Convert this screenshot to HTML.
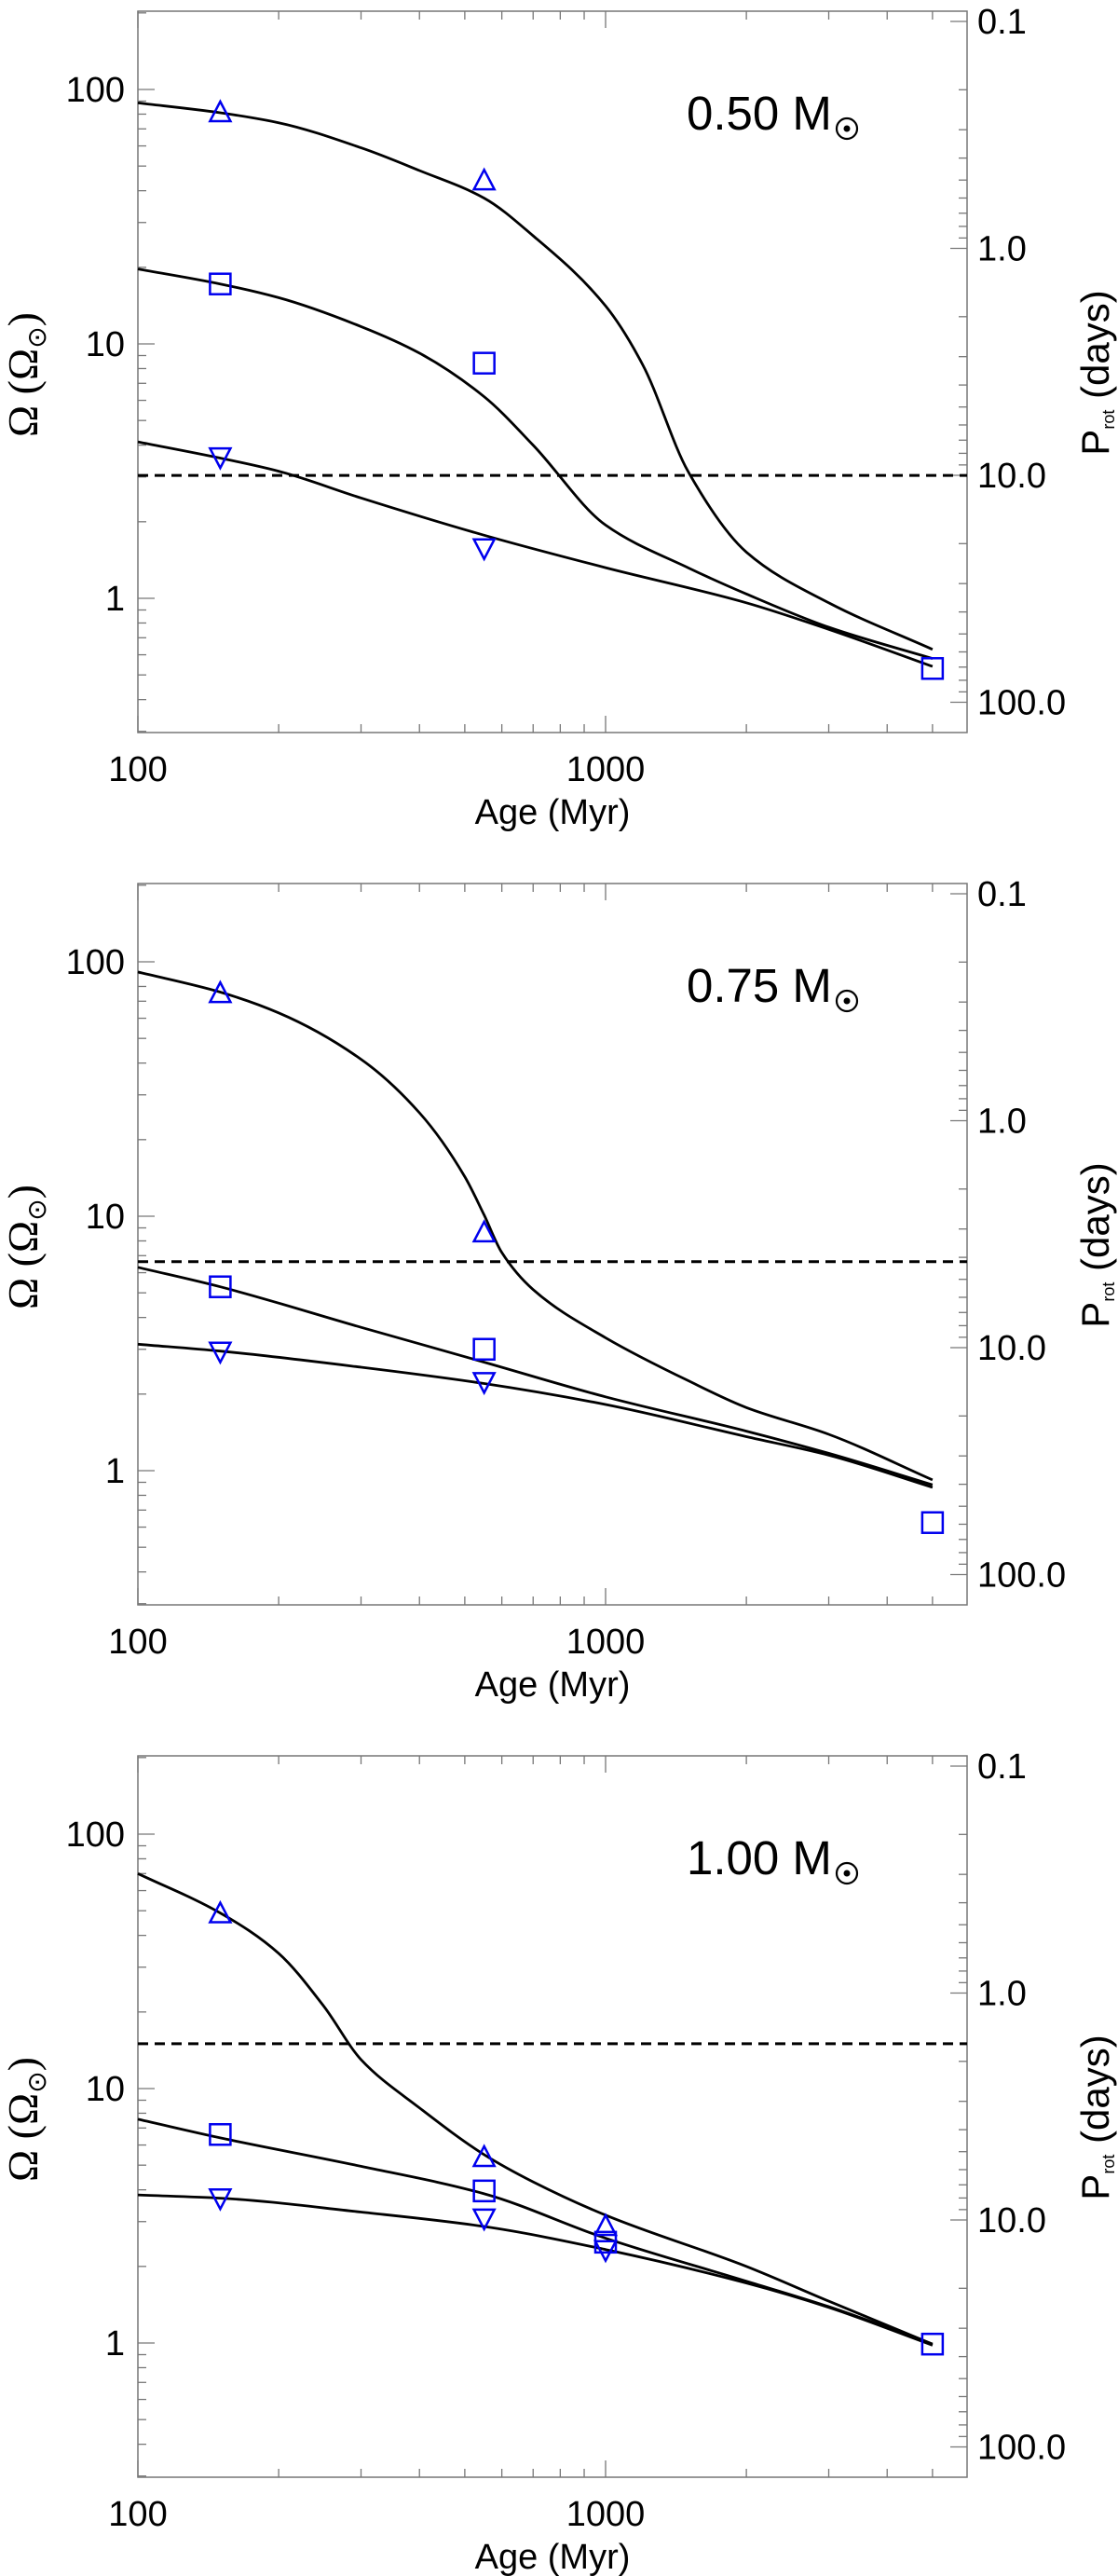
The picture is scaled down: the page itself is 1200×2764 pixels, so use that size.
<!DOCTYPE html>
<html><head><meta charset="utf-8"><title>Rotation evolution</title>
<style>
html,body{margin:0;padding:0;background:#fff;}
svg{display:block;}
text{font-family:"Liberation Sans",sans-serif;fill:#000;}
</style></head>
<body>
<svg id="fig" width="1200" height="2764" viewBox="0 0 1200 2764" xmlns="http://www.w3.org/2000/svg"></svg>
<script>
// ---- data ----
const massLabels = ["0.50", "0.75", "1.00"];
const curveAges = [[100,150,200,300,400,550,700,1000,1200,1500,2000,3000,5000],
                   [100,150,200,300,400,500,550,600,700,1000,1500,2000,3000,5000],
                   [100,150,200,250,300,400,550,700,1000,2000,3000,5000]];
const fastP1 = [88.6,81,74,59,48,37.4,26.6,14.1,8.3,3.16,1.52,0.96,0.63];
const medAgesP1 = [100,150,200,300,400,550,700,1000,1500,2000,3000,5000];
const medP1 = [19.7,17.2,15.2,11.7,9.2,6.2,4.0,1.94,1.32,1.04,0.77,0.58];
const slowAgesP1 = [100,150,200,300,550,1000,2000,3000,5000];
const slowP1 = [4.12,3.56,3.16,2.48,1.77,1.32,0.96,0.755,0.54];
const fastP2 = [91.2,76,63,41.4,25.5,14.3,10.1,7.2,5.15,3.33,2.26,1.77,1.39,0.92];
const medAgesP2 = [100,150,300,550,1000,2000,3000,5000];
const medP2 = [6.3,5.28,3.66,2.67,1.95,1.43,1.17,0.88];
const slowAgesP2 = [100,150,300,550,1000,2000,3000,5000];
const slowP2 = [3.14,2.95,2.55,2.2,1.82,1.36,1.15,0.86];
const fastP3 = [70,49,34,21,13,8.4,5.5,4.3,3.18,2.0,1.46,0.99];
const medAgesP3 = [100,150,300,550,1000,2000,3000,5000];
const medP3 = [7.58,6.4,4.95,3.86,2.58,1.75,1.39,0.99];
const slowAgesP3 = [100,150,300,550,1000,2000,3000,5000];
const slowP3 = [3.82,3.71,3.27,2.87,2.33,1.72,1.38,0.98];
const dashedOmega = [3.04, 6.63, 15.0];
const obsUpAges = [[150,550],[150,550],[150,550,1000]];
const obsUp = [[81,43.7],[75,8.6],[48.6,5.36,2.87]];
const obsSqAges = [[150,550,5000],[150,550,5000],[150,550,1000,5000]];
const obsSq = [[17.2,8.4,0.53],[5.28,3.0,0.625],[6.6,3.96,2.49,0.99]];
const obsDownAges = [[150,550],[150,550],[150,550,1000]];
const obsDown = [[3.6,1.58],[2.95,2.24],[3.72,3.1,2.33]];
const xTicks = [100,1000];
const xTickLabels = ["100","1000"];
const yTicks = [1,10,100];
const yTickLabels = ["1","10","100"];
const pTicks = [0.1,1,10,100];
const pTickLabels = ["0.1","1.0","10.0","100.0"];

const curves = [
  [[curveAges[0],fastP1],[medAgesP1,medP1],[slowAgesP1,slowP1]],
  [[curveAges[1],fastP2],[medAgesP2,medP2],[slowAgesP2,slowP2]],
  [[curveAges[2],fastP3],[medAgesP3,medP3],[slowAgesP3,slowP3]]
];

// ---- layout ----
const NS="http://www.w3.org/2000/svg";
const svg=document.getElementById('fig');
const X0=148, X1=1038, H=774, DECX=502, DECY=273, DECP=243.5;
const tops=[12,948,1884];
function mk(tag,attrs,parent){const e=document.createElementNS(NS,tag);for(const k in attrs)e.setAttribute(k,attrs[k]);(parent||svg).appendChild(e);return e;}
function xs(a){return X0+DECX*Math.log10(a/100);}
function ysF(top){return v=>top+84+DECY*(2-Math.log10(v));}
function ypF(top){return p=>top+11+DECP*(Math.log10(p)+1);}

function smoothPath(pts){
  const n=pts.length, dx=[], s=[], m=new Array(n);
  for(let i=0;i<n-1;i++){dx[i]=pts[i+1][0]-pts[i][0];s[i]=(pts[i+1][1]-pts[i][1])/dx[i];}
  m[0]=s[0];m[n-1]=s[n-2];
  for(let i=1;i<n-1;i++){
    if(s[i-1]*s[i]<=0)m[i]=0;
    else{const w1=2*dx[i]+dx[i-1],w2=dx[i]+2*dx[i-1];m[i]=(w1+w2)/(w1/s[i-1]+w2/s[i]);}
  }
  let d="M"+pts[0][0].toFixed(1)+","+pts[0][1].toFixed(1);
  for(let i=0;i<n-1;i++){
    const h=dx[i];
    d+=" C"+(pts[i][0]+h/3).toFixed(1)+","+(pts[i][1]+m[i]*h/3).toFixed(1)+" "+
       (pts[i+1][0]-h/3).toFixed(1)+","+(pts[i+1][1]-m[i+1]*h/3).toFixed(1)+" "+
       pts[i+1][0].toFixed(1)+","+pts[i+1][1].toFixed(1);
  }
  return d;
}

tops.forEach((top,pi)=>{
  const ys=ysF(top), yp=ypF(top), bot=top+H;
  const g=mk('g',{});
  
  
  const fr=mk('rect',{x:X0,y:top,width:X1-X0,height:H,fill:'none',stroke:'#777','stroke-width':1.5},g);
  
  
  for(let d=100;d<=1000;d*=10){for(let k=1;k<10;k++){const a=d*k;const x=xs(a);if(x>X1)continue;const L=(k===1)?18:9;
    mk('line',{x1:x,y1:bot,x2:x,y2:bot-L,stroke:'#777','stroke-width':1.3},g);
    mk('line',{x1:x,y1:top,x2:x,y2:top+L,stroke:'#777','stroke-width':1.3},g);}}
  xTicks.forEach((a,i)=>{const t=mk('text',{x:xs(a),y:bot+52,'font-size':38,'text-anchor':'middle'},g);t.textContent=xTickLabels[i];
    });
  const xt=mk('text',{x:593,y:bot+98,'font-size':38,'text-anchor':'middle'},g);xt.textContent="Age (Myr)";
  
  [0.1,1,10,100].forEach(d=>{for(let k=1;k<10;k++){const v=d*k;const y=ys(v);if(y<top||y>bot)continue;const L=(k===1)?18:9;
    mk('line',{x1:X0,y1:y,x2:X0+L,y2:y,stroke:'#777','stroke-width':1.3},g);}});
  yTicks.forEach((v,i)=>{const t=mk('text',{x:134,y:ys(v)+13,'font-size':38,'text-anchor':'end'},g);t.textContent=yTickLabels[i];
    });
  [0.1,1,10,100].forEach(d=>{for(let k=1;k<10;k++){const p=d*k;const y=yp(p);if(y<top||y>bot)continue;const L=(k===1)?18:9;
    mk('line',{x1:X1,y1:y,x2:X1-L,y2:y,stroke:'#777','stroke-width':1.3},g);}});
  pTicks.forEach((p,i)=>{const t=mk('text',{x:1049,y:yp(p)+13,'font-size':38},g);t.textContent=pTickLabels[i];
    });
  const cy=top+390;
  const lt=mk('text',{transform:'translate(40,'+cy+') rotate(-90)','font-size':46,'text-anchor':'middle'},g);
  lt.innerHTML='<tspan font-family="Liberation Serif,serif">Ω</tspan><tspan font-family="Liberation Serif,serif">  (Ω</tspan><tspan font-family="DejaVu Sans,sans-serif" font-size="28" dy="9">⊙</tspan><tspan font-family="Liberation Serif,serif" dy="-9">)</tspan>';
  
  const rt=mk('text',{transform:'translate(1190,'+(top+388)+') rotate(-90)','font-size':42,'text-anchor':'middle'},g);
  rt.innerHTML='P<tspan font-size="18" dy="6">rot</tspan><tspan dy="-6"> (days)</tspan>';
  
  const ml=mk('text',{x:737,y:top+127,'font-size':51},g);ml.textContent=massLabels[pi]+" M";
  
  const sc=mk('circle',{cx:909,cy:top+126,r:11,fill:'none',stroke:'#000','stroke-width':2.2},g);
  
  mk('circle',{cx:909,cy:top+126,r:3.5,fill:'#000'},g);
  const dl=mk('line',{x1:X0,x2:X1,y1:ys(dashedOmega[pi]),y2:ys(dashedOmega[pi]),stroke:'#000','stroke-width':3,'stroke-dasharray':'11,7'},g);
  
  ['fast','medium','slow'].forEach((nm,ci)=>{const [ag,vals]=curves[pi][ci];
    const pts=ag.map((a,i)=>[xs(a),ys(vals[i])]);
    const p=mk('path',{d:smoothPath(pts),fill:'none',stroke:'#000','stroke-width':2.8},g);
    });
  const blue='#0000ee';
  obsUpAges[pi].forEach((a,i)=>{const x=xs(a),y=ys(obsUp[pi][i]);
    const m=mk('polygon',{points:(x-11)+','+(y+9)+' '+(x+11)+','+(y+9)+' '+x+','+(y-12),fill:'none',stroke:blue,'stroke-width':2.5},g);
    });
  obsSqAges[pi].forEach((a,i)=>{const x=xs(a),y=ys(obsSq[pi][i]);
    const m=mk('rect',{x:x-11,y:y-11,width:22,height:22,fill:'none',stroke:blue,'stroke-width':2.5},g);
    });
  obsDownAges[pi].forEach((a,i)=>{const x=xs(a),y=ys(obsDown[pi][i]);
    const m=mk('polygon',{points:(x-11)+','+(y-9)+' '+(x+11)+','+(y-9)+' '+x+','+(y+12),fill:'none',stroke:blue,'stroke-width':2.5},g);
    });
});
</script>
</body></html>
